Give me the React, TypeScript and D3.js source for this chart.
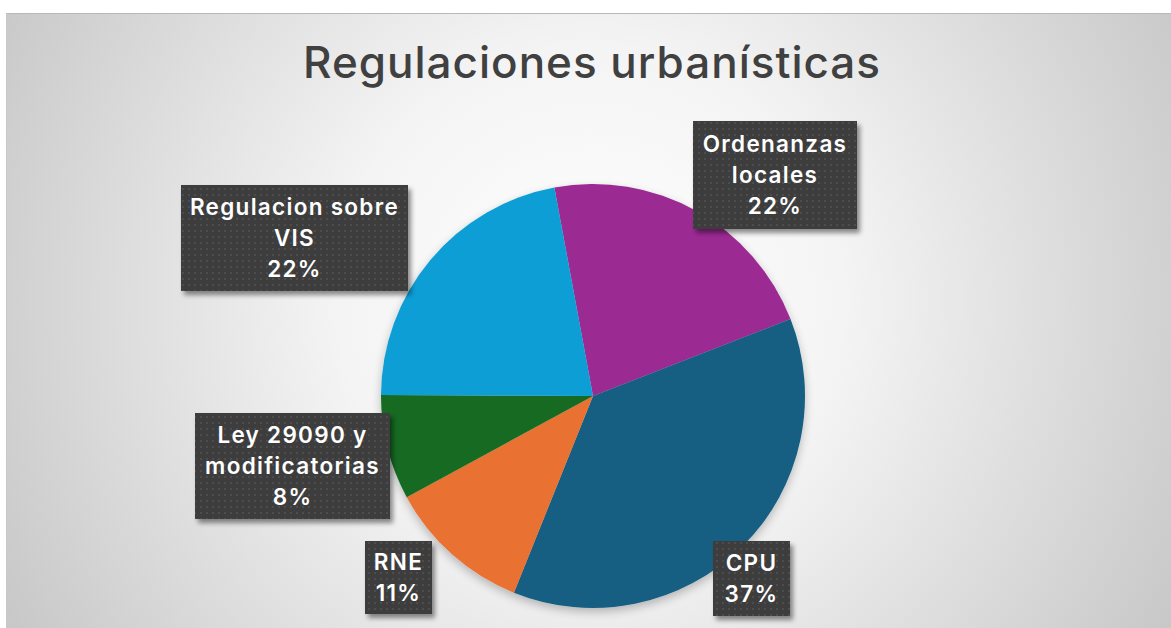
import React from "react";
import * as d3 from "d3";

const categories = ["Ordenanzas locales", "CPU", "RNE", "Ley 29090 y modificatorias", "Regulacion sobre VIS"];
const values = [22, 37, 11, 8, 22];
const colors = ["#9C2A93", "#155E83", "#E97132", "#196B24", "#0F9ED5"];
const labelLines = [["Ordenanzas", "locales"], ["CPU"], ["RNE"], ["Ley 29090 y", "modificatorias"], ["Regulacion sobre", "VIS"]];
const title = "Regulaciones urbanísticas";

const W = 1171, H = 628;
const cx = 593, cy = 396, R = 212;
const startDeg = -10.5;
// label box layout: center x, top y, width, height
const boxes = [
  { x: 775, y: 121, w: 164, h: 108 },
  { x: 751.5, y: 541, w: 77, h: 75 },
  { x: 398.5, y: 541, w: 67, h: 73 },
  { x: 292.5, y: 413, w: 195, h: 106 },
  { x: 294.5, y: 185, w: 227, h: 106 },
];

export default function App() {
  const total = d3.sum(values);
  const pie = d3.pie<number>().sort(null).value(d => d)
    .startAngle(startDeg * Math.PI / 180).endAngle((startDeg + 360) * Math.PI / 180);
  const arcs = pie(values);
  const arc = d3.arc<d3.PieArcDatum<number>>().innerRadius(0).outerRadius(R);
  const fmt = d3.format(".0%");
  const lineH = 31;
  const font = "Inter, 'Open Sans', sans-serif";
  return (
    <svg width={W} height={H} style={{ position: "absolute", left: 0, top: 0, display: "block" }}>
      <defs>
        <radialGradient id="bg" cx="590" cy="300" r="720" gradientUnits="userSpaceOnUse">
          <stop offset="0" stopColor="#ffffff" />
          <stop offset="0.35" stopColor="#f4f4f4" />
          <stop offset="1" stopColor="#c2c2c2" />
        </radialGradient>
        <pattern id="dots" width="6" height="6" patternUnits="userSpaceOnUse">
          <rect width="6" height="6" fill="#3e3e3e" />
          <circle cx="3" cy="3" r="1" fill="#525252" />
        </pattern>
        <filter id="shadow" x="-20%" y="-20%" width="140%" height="150%">
          <feGaussianBlur in="SourceAlpha" stdDeviation="2.5" />
          <feOffset dx="3" dy="4" result="b" />
          <feComponentTransfer><feFuncA type="linear" slope="0.45" /></feComponentTransfer>
          <feMerge><feMergeNode /><feMergeNode in="SourceGraphic" /></feMerge>
        </filter>
        <filter id="pieShadow" x="-20%" y="-20%" width="140%" height="140%">
          <feGaussianBlur in="SourceAlpha" stdDeviation="5" />
          <feOffset dx="0" dy="4" result="b" />
          <feComponentTransfer><feFuncA type="linear" slope="0.25" /></feComponentTransfer>
          <feMerge><feMergeNode /><feMergeNode in="SourceGraphic" /></feMerge>
        </filter>
      </defs>
      <rect x={0} y={0} width={W} height={H} fill="#ffffff" />
      <rect x={6} y={13} width={W - 6} height={H - 13} fill="url(#bg)" />
      <line x1={6} y1={13.5} x2={W} y2={13.5} stroke="#b8b8b8" strokeWidth={1} />
      <line x1={6.5} y1={13} x2={6.5} y2={H} stroke="#c8c8c8" strokeWidth={1} />
      <text x={592} y={78} textAnchor="middle" fontFamily={font} fontWeight={500} fontSize={44} letterSpacing={1} fill="#404040">{title}</text>
      <g transform={`translate(${cx},${cy})`} filter="url(#pieShadow)">
        {arcs.map((a, i) => (
          <path key={categories[i]} d={arc(a) || ""} fill={colors[i]} />
        ))}
      </g>
      {arcs.map((a, i) => {
        const b = boxes[i];
        const lines = [...labelLines[i], fmt(values[i] / total)];
        const y0 = b.y + b.h / 2 - ((lines.length - 1) * lineH) / 2;
        return (
          <g key={"l" + i}>
            <rect x={b.x - b.w / 2} y={b.y} width={b.w} height={b.h} fill="url(#dots)" filter="url(#shadow)" />
            {lines.map((t, j) => (
              <text key={j} x={b.x} y={y0 + j * lineH} dy="0.36em" textAnchor="middle"
                fontFamily={font} fontWeight={600} fontSize={22.5} letterSpacing={1.3} fill="#ffffff">{t}</text>
            ))}
          </g>
        );
      })}
    </svg>
  );
}
